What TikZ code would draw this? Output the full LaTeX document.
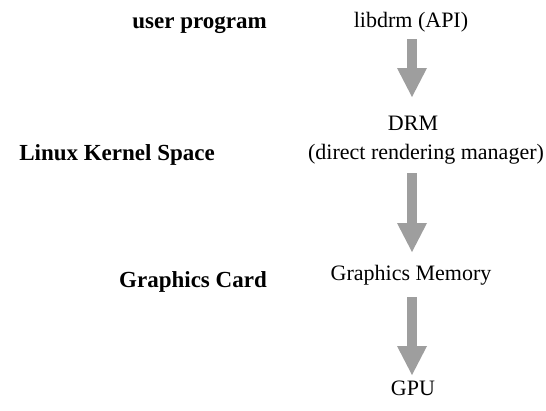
\documentclass[tikz,border=0pt]{standalone}
\usepackage{fontspec}
\setmainfont{Liberation Serif}
\usetikzlibrary{arrows.meta}
\definecolor{arrowgray}{RGB}{158,158,158}
\tikzset{
  lbl/.style={anchor=base, inner sep=0pt, font=\fontsize{22}{26}\selectfont},
  side/.style={lbl, font=\fontsize{23}{27}\selectfont\bfseries},
  bigarrow/.style={draw=arrowgray, line width=10pt, line cap=butt,
    -{Triangle[width=30pt,length=29pt,line width=0pt,fill=arrowgray]}}
}
\begin{document}
\begin{tikzpicture}[x=1pt,y=-1pt]
\useasboundingbox (0,0) rectangle (546,410);
% left labels
\node[side, anchor=base east] (up) at (267,28) {user program};
\node[side, anchor=base east] (lks) at (215,160) {Linux Kernel Space};
\node[side, anchor=base east] (gc) at (267,287) {Graphics Card};
% right column
\node[lbl] (lib) at (411,27) {libdrm (API)};
\node[lbl] (drm) at (413,130) {DRM};
\node[lbl] (drmfull) at (426,159) {(direct rendering manager)};
\node[lbl] (gm) at (411,280) {Graphics Memory};
\node[lbl] (gpu) at (413,395) {GPU};
% arrow end points
\coordinate (a1s) at (412,39);
\coordinate (a1e) at (412,97);
\coordinate (a2s) at (412,173);
\coordinate (a2e) at (412,252);
\coordinate (a3s) at (412,297);
\coordinate (a3e) at (412,375);
\draw[bigarrow] (a1s) -- (a1e);
\draw[bigarrow] (a2s) -- (a2e);
\draw[bigarrow] (a3s) -- (a3e);
\end{tikzpicture}
\end{document}
